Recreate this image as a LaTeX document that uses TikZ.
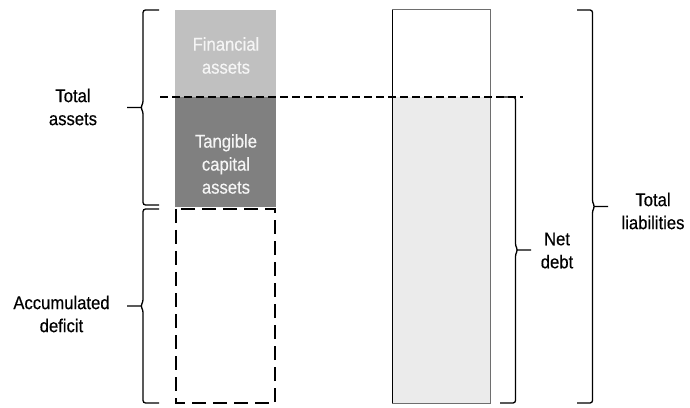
\documentclass[tikz,border=0pt]{standalone}
\usepackage{fontspec}
\setmainfont{Liberation Sans}[FakeStretch=0.9,BoldFont={Liberation Sans},BoldFeatures={FakeBold=0.35}]
\usetikzlibrary{calc}

\begin{document}
\begin{tikzpicture}[x=1pt,y=1pt,
  labelText/.style={text=black,align=center,inner sep=0pt,outer sep=0pt,font=\fontsize{18.5}{23}\selectfont\bfseries},
  barText/.style={labelText,text=barTextColor},
  % curly brace, #1 = signed offset of its back from the end points
  curly/.style={draw=black,line width=1.3pt,rounded corners=2.5pt,
    to path={let \p1=(\tikztostart), \p2=(\tikztotarget) in
      (\x1,\y1) -- ({\x1+#1pt},\y1) -- ({\x1+#1pt},{0.5*\y1+0.5*\y2+4pt})
      -- ({\x1+1.15*#1pt},{0.5*\y1+0.5*\y2}) -- ({\x1+#1pt},{0.5*\y1+0.5*\y2-4pt})
      -- ({\x1+#1pt},\y2) -- (\x2,\y2)
      ({\x1+1.1*#1pt},{0.5*\y1+0.5*\y2}) -- ({\x1+2*#1pt},{0.5*\y1+0.5*\y2})}},
  cutLine/.style={draw=black,line width=2pt,dash pattern=on 8pt off 4pt}]
\definecolor{finColor}{RGB}{192,192,192}
\definecolor{tanColor}{RGB}{128,128,128}
\definecolor{debtColor}{RGB}{235,235,235}
\definecolor{barTextColor}{RGB}{245,245,245}
\definecolor{edgeColor}{RGB}{110,110,110}
\path[use as bounding box,fill=white] (0,0) rectangle (690,407);

% assets side
\path[fill=finColor] (175,397) rectangle (276,310);
\path[fill=tanColor] (175,310) rectangle (276,200);
\path[draw=black,line width=2pt,dash pattern=on 14pt off 7pt] (176,198) rectangle (275,4);

% liabilities side
\path[fill=debtColor] (392,310) rectangle (490,4);
\path[draw=edgeColor,line width=1pt] (392,4) rectangle (490,397);
\path[draw=black,line width=1pt] (392,4) -- (392,397);

\node[barText] (fin) at (226,351.5) {Financial\\assets};
\node[barText] (tan) at (226,243) {Tangible\\capital\\assets};

% net debt cut
\coordinate (cutL) at (160,310);
\coordinate (cutR) at (523,310);
\path[cutLine] (cutL) -- (cutR);

% brace end points
\coordinate (taTop) at (159,397);
\coordinate (taBot) at (159,202);
\coordinate (adTop) at (159,198);
\coordinate (adBot) at (159,4);
\coordinate (ndTop) at (500,310);
\coordinate (ndBot) at (500,4);
\coordinate (tlTop) at (577,397);
\coordinate (tlBot) at (577,4);

\path[curly=-16] (taTop) to (taBot);
\path[curly=-16] (adTop) to (adBot);
\path[curly=15.5] (ndTop) to (ndBot);
\path[curly=15.5] (tlTop) to (tlBot);

\node[labelText] (totAssets) at (73,300) {Total\\assets};
\node[labelText] (accDeficit) at (61.5,93) {Accumulated\\deficit};
\node[labelText] (netDebt) at (557,156.5) {Net\\debt};
\node[labelText] (totLiab) at (653,196) {Total\\liabilities};
\end{tikzpicture}
\end{document}
